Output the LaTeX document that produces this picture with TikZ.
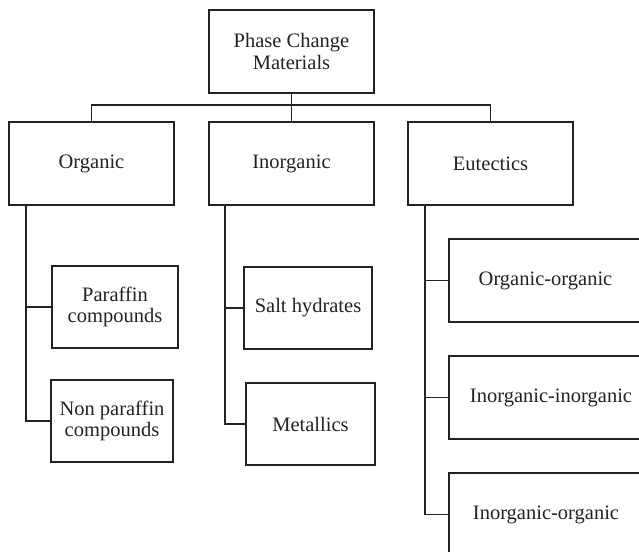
\documentclass[tikz,border=0pt]{standalone}
\usepackage{fontspec}
\setmainfont{Liberation Serif}
\definecolor{ink}{HTML}{222222}
\begin{document}
\begin{tikzpicture}[x=1pt,y=-1pt,
  box/.style={draw=ink, line width=1.6pt, rectangle, inner sep=0pt, align=center, text=ink,
    font=\fontsize{20.5}{21.6}\selectfont},
  link/.style={draw=ink, line width=1.6pt}]
\useasboundingbox (0,0) rectangle (639,551);
\clip (0,0) rectangle (639,551);
% level 0
\node[box, minimum width=165pt, minimum height=83pt] (pcm) at (291.5,51.5) {Phase Change\\Materials};
% level 1
\node[box, minimum width=165pt, minimum height=83pt] (org) at (91.5,163.5) {Organic};
\node[box, minimum width=165pt, minimum height=83pt] (inorg) at (291.5,163.5) {Inorganic};
\node[box, minimum width=165pt, minimum height=83pt] (eut) at (490.5,163.5) {Eutectics};
% organic children
\node[box, minimum width=126pt, minimum height=82pt] (par) at (115,307) {Paraffin\\compounds};
\node[box, minimum width=122pt, minimum height=82pt] (npar) at (112,421) {Non paraffin\\compounds};
% inorganic children
\node[box, minimum width=128pt, minimum height=82pt] (salt) at (308,308) {Salt hydrates};
\node[box, minimum width=129pt, minimum height=82pt] (metal) at (310.5,424) {Metallics};
% eutectic children
\node[box, minimum width=193pt, minimum height=83pt] (oo) at (545.5,280.5) {Organic-organic};
\node[box, minimum width=204pt, minimum height=83pt] (ii) at (551,397.5) {Inorganic-inorganic};
\node[box, minimum width=194pt, minimum height=83pt] (io) at (546,514.5) {Inorganic-organic};
% top connectors
\coordinate (bus) at (0,105);
\draw[link] (org.north) -- (org.north |- bus) -- (eut.north |- bus) -- (eut.north);
\draw[link] (pcm.south) -- (inorg.north);
% trunks
\coordinate (ot) at (26,205);
\coordinate (it) at (225,205);
\coordinate (et) at (425,205);
\draw[link] (ot) |- (npar.west);
\draw[link] (ot |- par.west) -- (par.west);
\draw[link] (it) |- (metal.west);
\draw[link] (it |- salt.west) -- (salt.west);
\draw[link] (et) |- (io.west);
\draw[link] (et |- oo.west) -- (oo.west);
\draw[link] (et |- ii.west) -- (ii.west);
\end{tikzpicture}
\end{document}
